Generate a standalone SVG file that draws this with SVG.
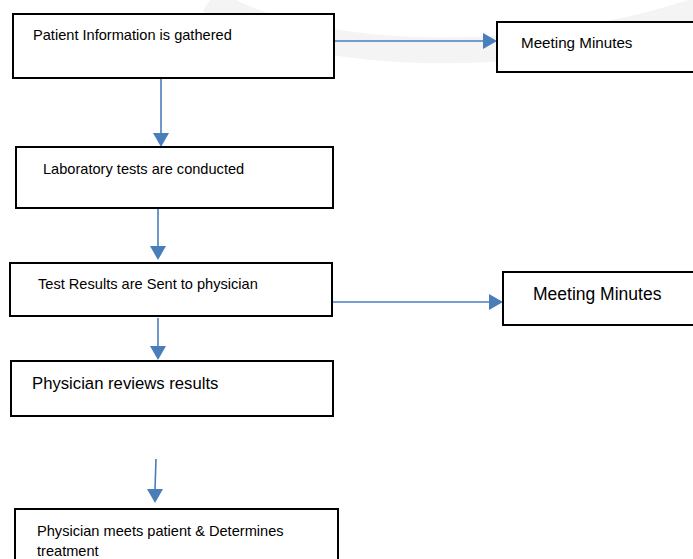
<svg xmlns="http://www.w3.org/2000/svg" width="693" height="559" viewBox="0 0 693 559">
<style>
.box{fill:#fff;stroke:#000;stroke-width:2}
.t{font-family:"Liberation Sans","Open Sans",Arial,sans-serif;fill:#000}
.s{font-size:14.6px}
.m{font-size:17.5px}
.c{stroke:#4a7ebb;stroke-width:1.6;fill:none}
.h{fill:#4a7ebb}
</style>
<path d="M210,0 C300,60 520,70 700,10" stroke="#f4f4f4" stroke-width="26" fill="none"/>
<g id="connectors">
<line class="c" x1="334" y1="41" x2="484" y2="41"/><polygon class="h" points="483,33 497,41 483,49"/>
<line class="c" x1="161" y1="78" x2="161" y2="134"/><polygon class="h" points="153,133 161,147 169,133"/>
<line class="c" x1="158" y1="208" x2="158" y2="247"/><polygon class="h" points="150,246 158,260 166,246"/>
<line class="c" x1="332" y1="302" x2="490" y2="302"/><polygon class="h" points="489,294 503,302 489,310"/>
<line class="c" x1="158" y1="318" x2="158" y2="347"/><polygon class="h" points="150,346 158,360 166,346"/>
<line class="c" x1="156" y1="459" x2="155" y2="490"/><polygon class="h" points="147,489 155,503 163,489"/>
</g>
<g id="n1"><rect class="box" x="13" y="14" width="321" height="64"/><text class="t s" x="33" y="40">Patient Information is gathered</text></g>
<g id="n2"><rect class="box" x="497" y="22" width="200" height="50"/><text class="t s" x="521" y="48" style="font-size:15.2px">Meeting Minutes</text></g>
<g id="n3"><rect class="box" x="16" y="147" width="317" height="61"/><text class="t s" x="43" y="174">Laboratory tests are conducted</text></g>
<g id="n4"><rect class="box" x="10" y="263" width="322" height="53"/><text class="t s" x="38" y="289">Test Results are Sent to physician</text></g>
<g id="n5"><rect class="box" x="503" y="272" width="194" height="53"/><text class="t m" x="533" y="300">Meeting Minutes</text></g>
<g id="n6"><rect class="box" x="11" y="361" width="322" height="55"/><text class="t m" x="32" y="389" style="font-size:16.7px">Physician reviews results</text></g>
<g id="n7"><rect class="box" x="15" y="509" width="323" height="60"/><text class="t s" x="37" y="536">Physician meets patient &amp; Determines</text><text class="t s" x="37" y="556">treatment</text></g>
</svg>
